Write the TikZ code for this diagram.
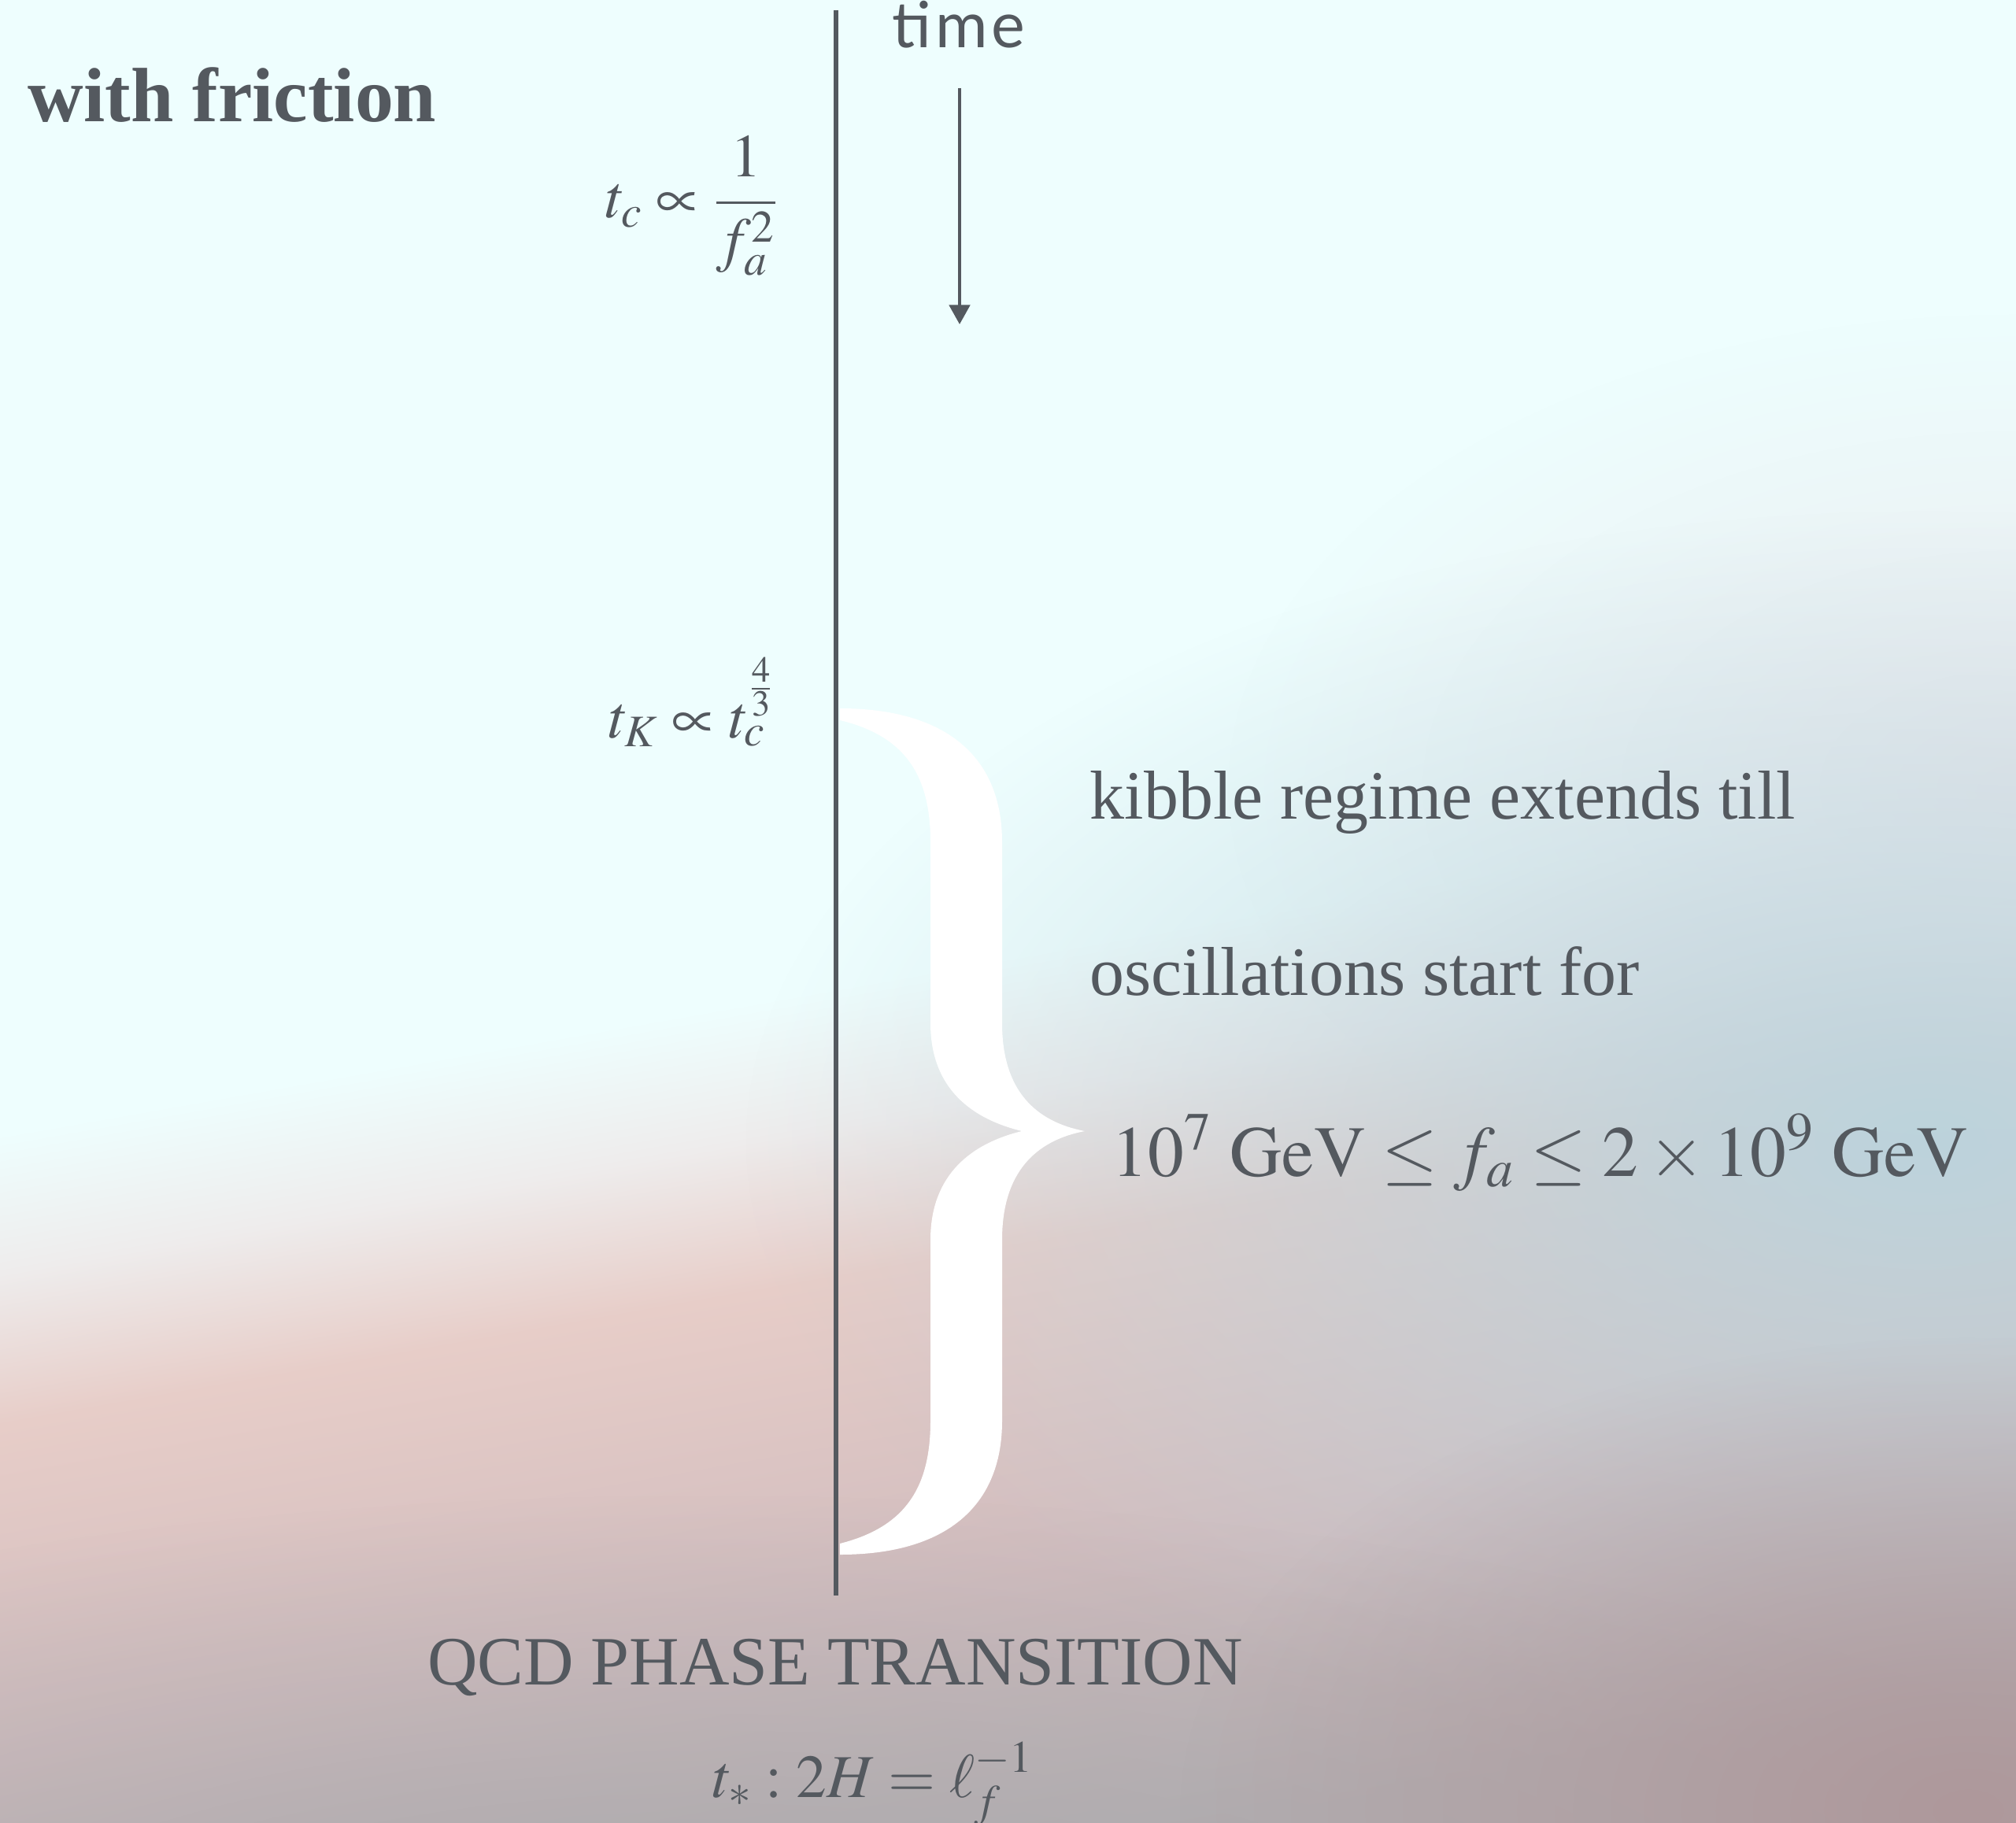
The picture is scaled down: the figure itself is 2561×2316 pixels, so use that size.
\documentclass[tikz,border=0pt]{standalone}
\usepackage{mathptmx}
\usepackage{fontspec}
\setmainfont{Liberation Serif}
\newfontfamily\timefont{Lato}[LetterSpace=6]
\usepackage{tikz}
\usetikzlibrary{arrows.meta,fadings}

\definecolor{inkgrey}{RGB}{84,89,95}
\definecolor{skycyan}{RGB}{238,254,254}
\definecolor{paleband}{RGB}{238,236,236}
\definecolor{dustpink}{RGB}{231,205,200}
\definecolor{ashrose}{RGB}{208,188,190}
\definecolor{fogrey}{RGB}{182,176,179}
\definecolor{steelmist}{RGB}{188,211,220}
\definecolor{lavmist}{RGB}{234,234,238}
\definecolor{mauvedusk}{RGB}{174,152,155}
\definecolor{ashgrey}{RGB}{172,170,173}

\pgfdeclareverticalshading{skyband}{100bp}{color(0bp)=(fogrey); color(33bp)=(fogrey); color(38bp)=(ashrose); color(44bp)=(dustpink); color(46.7bp)=(paleband); color(49.2bp)=(skycyan); color(100bp)=(skycyan)}
\tikzfading[name=softblob, inner color=transparent!0, outer color=transparent!100]

\begin{document}
\begin{tikzpicture}[x=0.01cm, y=0.01cm, >=Stealth,
  lbl/.style={text=inkgrey, inner sep=0pt, font=\fontsize{25}{30}\selectfont},
  mlbl/.style={text=inkgrey, inner sep=0pt, font=\fontsize{22}{26}\selectfont}]

% ---------------- 1. BACKGROUND WASH ----------------
\useasboundingbox (0,0) rectangle (2561,-2316);
\begin{scope}
  \clip (0,0) rectangle (2561,-2316);
  \begin{scope}[transform canvas={rotate around={10:(1280,-1158)}}]
    \shade[shading=skyband] (-700,592) rectangle (3261,-2908);
  \end{scope}
  % soft colour blobs
  \fill[lavmist, path fading=softblob] (2561,-1000) ellipse [x radius=10cm, y radius=6cm];
  \fill[steelmist, path fading=softblob] (2450,-1450) ellipse [x radius=15cm, y radius=8cm];
  \fill[ashgrey, path fading=softblob] (900,-2550) ellipse [x radius=20cm, y radius=6.5cm];
  \fill[mauvedusk, path fading=softblob] (2500,-2300) ellipse [x radius=10cm, y radius=6cm];
\end{scope}

% ---------------- 2. TIME AXIS ----------------
\coordinate (linetop) at (1062,-13);
\coordinate (linebot) at (1062,-2027);
\draw[inkgrey, line width=1.5pt] (linetop) -- (linebot);

\coordinate (arrtop) at (1219,-112);
\coordinate (arrtip) at (1219,-412);
\draw[inkgrey, line width=1.1pt, -{Triangle[length=7pt,width=7.5pt]}] (arrtop) -- (arrtip);

\node[text=inkgrey, inner sep=0pt, anchor=base west, font=\timefont\fontsize{23}{26}\selectfont] (timelbl) at (1133,-61) {time};

% ---------------- 3. TITLE ----------------
\node[text=inkgrey, inner sep=0pt, anchor=base west, font=\fontsize{27.8}{32}\selectfont\bfseries] (friction) at (35,-155) {with friction};

% ---------------- 4. TIME SCALES ----------------
\node[mlbl, anchor=base east] (tc) at (990,-277) {$\displaystyle t_c \propto \frac{1}{f_a^2}$};
\node[mlbl, anchor=base east] (tk) at (985,-937) {$t_K \propto t_c^{\frac{4}{3}}$};

% ---------------- 5. BRACE ----------------
\fill[white] (1067,-900) .. controls (1200,-900) and (1273,-960) .. (1273,-1070)
  -- (1273,-1300)
  .. controls (1273,-1385) and (1315,-1425) .. (1378,-1437)
  .. controls (1315,-1449) and (1273,-1490) .. (1273,-1575)
  -- (1273,-1805)
  .. controls (1273,-1915) and (1200,-1975) .. (1067,-1975)
  -- (1067,-1961)
  .. controls (1150,-1940) and (1182,-1890) .. (1182,-1805)
  -- (1182,-1575)
  .. controls (1182,-1500) and (1225,-1455) .. (1298,-1437)
  .. controls (1225,-1419) and (1182,-1375) .. (1182,-1300)
  -- (1182,-1070)
  .. controls (1182,-985) and (1150,-935) .. (1067,-915)
  -- cycle;

% ---------------- 6. KIBBLE REGIME ----------------
\node[lbl, anchor=base west] (kibble) at (1384,-1040) {kibble regime extends till};
\node[lbl, anchor=base west] (oscill) at (1384,-1264) {oscillations start for};
\node[lbl, anchor=base west, font=\fontsize{26}{30}\selectfont] (farange) at (1412,-1494)
  {$10^7\ \mathrm{GeV} \le f_a \le 2\times 10^9\ \mathrm{GeV}$};

% ---------------- 7. QCD TRANSITION ----------------
\node[lbl, anchor=base] (qcd) at (1061,-2140) {QCD PHASE TRANSITION};
\node[mlbl, anchor=base west] (tstar) at (905,-2283) {$t_* : 2H = \ell_f^{-1}$};

\end{tikzpicture}
\end{document}
